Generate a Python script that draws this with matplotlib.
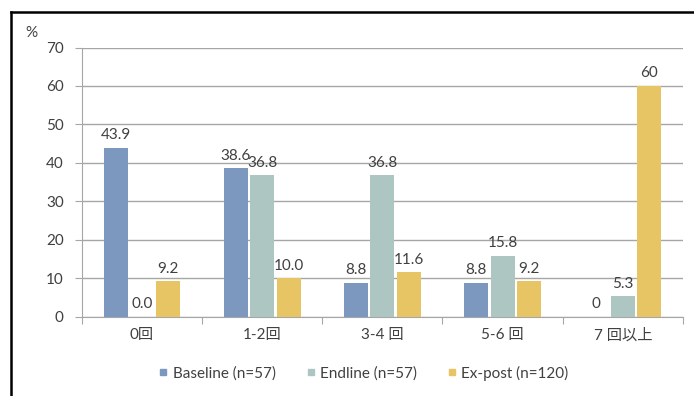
import numpy as np
import matplotlib.pyplot as plt
from matplotlib.lines import Line2D

plt.rcParams['font.family'] = ['Lato', 'Noto Sans CJK JP', 'DejaVu Sans']

# Frequency categories and shares (%) per survey round
categories = ['0回', '1-2回', '3-4 回', '5-6 回', '7 回以上']
baseline_labels = ['43.9', '38.6', '8.8', '8.8', '0']
endline_labels = ['0.0', '36.8', '36.8', '15.8', '5.3']
expost_labels = ['9.2', '10.0', '11.6', '9.2', '60']
series_names = ['Baseline (n=57)', 'Endline (n=57)', 'Ex-post (n=120)']

baseline = [float(s) for s in baseline_labels]
endline = [float(s) for s in endline_labels]
expost = [float(s) for s in expost_labels]

colors = ['#7d98bf', '#adc6c2', '#e8c564']
text_color = '#404040'
grid_color = '#a6a6a6'

fig = plt.figure(figsize=(6.94, 3.96), dpi=100)
ax = fig.add_axes([0.118, 0.2, 0.866, 0.68])

x = np.arange(len(categories))
width = 0.2
step = 0.22
all_series = [(baseline, baseline_labels), (endline, endline_labels), (expost, expost_labels)]
for i, (vals, labs) in enumerate(all_series):
    pos = x + (i - 1) * step
    ax.bar(pos, vals, width, color=colors[i], zorder=3)
    for px, v, lab in zip(pos, vals, labs):
        ax.annotate(lab, (px, v), xytext=(0, 4), textcoords='offset points',
                    ha='center', va='bottom', fontsize=11, color=text_color)

ax.set_xlim(-0.5, 4.5)
ax.set_ylim(0, 70)
ax.set_yticks(range(0, 71, 10))
ax.yaxis.grid(True, color=grid_color, linewidth=1, zorder=0)
ax.set_axisbelow(True)

# category labels sit between boundary tick marks
ax.set_xticks(np.arange(-0.5, 4.6, 1))
ax.set_xticklabels([])
ax.set_xticks(x, minor=True)
ax.set_xticklabels(categories, minor=True)
ax.tick_params(axis='x', which='minor', length=0, pad=8, labelsize=11, labelcolor=text_color)
ax.tick_params(axis='x', which='major', length=5, color=grid_color)
ax.tick_params(axis='y', length=5, color=grid_color, labelsize=11, labelcolor=text_color, pad=8)

for side in ['top', 'right']:
    ax.spines[side].set_visible(False)
for side in ['left', 'bottom']:
    ax.spines[side].set_color(grid_color)

fig.text(31 / 694, 1 - 33 / 396, '%', ha='center', va='center', fontsize=11, color=text_color)

handles = [Line2D([], [], marker='s', linestyle='none', markersize=5,
                  markerfacecolor=c, markeredgecolor=c) for c in colors]
fig.legend(handles, series_names, loc='center', bbox_to_anchor=(0.524, 0.058),
           ncol=3, frameon=False, fontsize=11, labelcolor=text_color,
           handlelength=0.6, handletextpad=0.3, columnspacing=2.0)

# outer frame (left and top edges)
fig.add_artist(Line2D([11 / 694, 11 / 694], [0, 1 - 12 / 396], transform=fig.transFigure,
                      color='black', linewidth=1.8))
fig.add_artist(Line2D([11 / 694, 1], [1 - 12 / 396, 1 - 12 / 396], transform=fig.transFigure,
                      color='black', linewidth=1.8))

fig.savefig('out.png', dpi=100)
